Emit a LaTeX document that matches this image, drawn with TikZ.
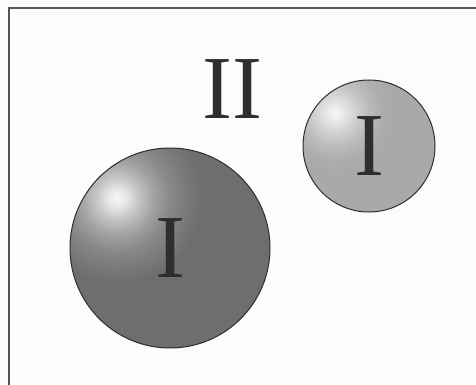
\documentclass[tikz,border=0pt]{standalone}
\usepackage{fontspec}
\setmainfont{Liberation Serif}
\definecolor{bigbase}{RGB}{110,110,113}
\definecolor{smallbase}{RGB}{169,169,172}
\pgfdeclareradialshading{bighl}{\pgfpointorigin}{%
  color(0bp)=(white!97!black); color(2.5bp)=(white!91!black); color(6bp)=(white!78!black);
  color(11bp)=(white!63!black); color(16bp)=(white!53!black); color(20.5bp)=(bigbase!92!white);
  color(25bp)=(bigbase); color(50bp)=(bigbase)}
\pgfdeclareradialshading{smallhl}{\pgfpointorigin}{%
  color(0bp)=(white!97!black); color(3bp)=(white!92!black); color(8bp)=(white!83!black);
  color(14bp)=(white!74!black); color(20bp)=(smallbase!95!white); color(25bp)=(smallbase); color(50bp)=(smallbase)}
\definecolor{framegray}{HTML}{555555}
\definecolor{inkgray}{HTML}{2E2E2E}
\tikzset{
  ball/.style={circle, draw=inkgray, line width=1pt, inner sep=0pt, text=inkgray,
    font=\fontsize{90}{90}\selectfont},
}
\begin{document}
\begin{tikzpicture}[x=1pt,y=-1pt]
\useasboundingbox (0,0) rectangle (476,385);
\fill[white!99!black] (0,0) rectangle (476,385);
\coordinate (tl) at (9,8);
\coordinate (tr) at (480,8);
\coordinate (bl) at (9,390);
\draw[framegray, line width=1.6pt] (tr) -- (tl) -- (bl);
% big sphere
\coordinate (bc) at (170,248);
\coordinate (bh) at (117,198);
\begin{scope}
  \clip (bc) circle (100pt);
  \fill[bigbase] (bc) circle (100pt);
  \shade[shading=bighl] (bh) circle (85pt);
\end{scope}
\node[ball, minimum size=200pt] (big) at (bc) {I};
% small sphere
\coordinate (sc) at (369,146);
\coordinate (sh) at (335,113);
\begin{scope}
  \clip (sc) circle (66pt);
  \fill[smallbase] (sc) circle (66pt);
  \shade[shading=smallhl] (sh) circle (58pt);
\end{scope}
\node[ball, minimum size=132pt] (small) at (sc) {I};
\node[text=inkgray, font=\fontsize{90}{90}\selectfont, inner sep=0pt] (two) at (232,89) {II};
\end{tikzpicture}
\end{document}
